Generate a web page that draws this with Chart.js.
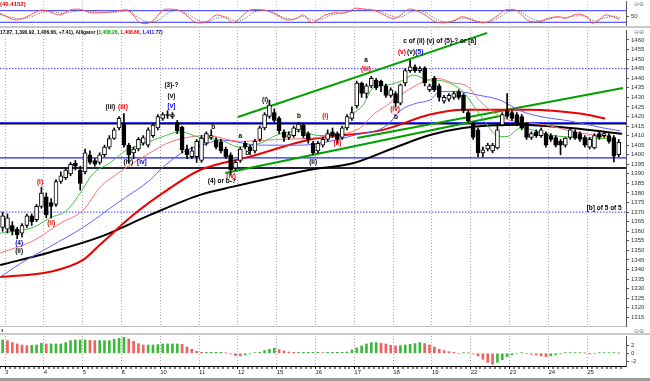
<!DOCTYPE html>
<html>
<head>
<meta charset="utf-8">
<script src="https://cdn.jsdelivr.net/npm/chart.js@4.4.1/dist/chart.umd.min.js"></script>
<style>
html,body{margin:0;padding:0;background:#fff;}
body{width:650px;height:381px;position:relative;overflow:hidden;font-family:"Liberation Sans",Arial,sans-serif;}
canvas{position:absolute;left:0;}
.band{position:absolute;left:0;width:650px;}
.txt{position:absolute;white-space:nowrap;font-weight:bold;line-height:1;}
</style>
</head>
<body>
<canvas id="osc" width="650" height="26" style="top:0px"></canvas>
<canvas id="main" width="650" height="300" style="top:28px"></canvas>
<canvas id="hist" width="650" height="46" style="top:335px"></canvas>
<div class="band" style="top:26px;height:2px;background:#c8c8c8"></div>
<div class="band" style="top:333px;height:2px;background:#c8c8c8"></div>
<div class="band" style="top:378px;height:3px;background:#9a9a9a"></div>
<div class="txt" style="left:0;top:1px;font-size:6px;color:#e00000">(40.4152)</div>
<div class="txt" style="left:0;top:29px;font-size:6px;color:#000;transform:scaleX(0.82);transform-origin:0 0">17.87, 1,390.92, 1,406.66, +7.41), Alligator (<span style="color:#00a000">1,408.26</span>, <span style="color:#e00000">1,408.66</span>, <span style="color:#0000e0">1,411.77</span>)</div>
<div class="txt" style="left:1px;top:327px;font-size:7px;color:#000">›</div>
<div class="txt" style="left:634px;top:1px;font-size:6px;color:#888;font-weight:normal">⊖⊕</div>
<div class="txt" style="left:634px;top:29px;font-size:6px;color:#888;font-weight:normal">⊖⊕</div>
<div class="txt" style="left:634px;top:328px;font-size:6px;color:#888;font-weight:normal">⊖⊕</div>
<script>
// ---------------- DATA ----------------
const dayLabels = ['3','4','5','8','10','11','12','15','16','17','18','19','22','23','24','25'];
const barsPerDay = 8;

const opens = [1362,1361,1363,1361,1359,1363,1368,1366,1373,1378,1375,1374,1386,1388,1390,1395.5,1392,1391,1400,1397,1396,1400,1404,1408.5,1414,1416.5,1405,1401,1403,1406,1405,1410,1414,1419,1421,1420,1417,1414.5,1403,1399,1399,1397,1406,1409,1407.7,1406.7,1403,1400,1393,1397,1406,1404,1402,1408,1414,1420,1422,1419,1412,1409,1410,1413,1415.5,1411,1406,1402,1405,1408,1412,1411,1409,1414,1419,1425.5,1437.5,1432,1436,1439,1438.5,1436,1431,1432,1427,1437.5,1444,1446,1444,1445.4,1434,1440,1436,1428,1429,1430,1433,1431,1422,1416,1413,1401,1403,1402,1403.5,1415.6,1423,1422,1421,1420,1416.6,1409,1412,1410,1411,1410,1409,1407,1405,1409,1412,1411,1409,1404,1403.5,1411,1410,1410,1409,1400];
const highs = [1370,1369,1365,1362,1364,1369,1369,1374,1383,1380,1377,1387,1391,1393,1396,1397,1394,1403,1402,1398,1401,1405,1410,1414,1420,1421.5,1406,1404,1409,1410,1414,1416,1421,1422,1423,1422,1418,1415,1405,1404,1408,1410,1412,1413,1409,1408,1404,1401,1397,1404,1407,1405,1408,1415,1422,1428.6,1424,1420,1413,1412,1415,1417,1416,1412,1407,1407,1409,1413,1414,1412,1415,1421,1425,1438.5,1438,1437,1441,1440,1439,1437,1435,1433,1437,1445,1449.5,1447,1446,1446,1437,1441,1437,1431,1432,1433,1434,1432,1423.5,1417,1414,1404,1406,1406,1416.6,1422,1432,1423,1422,1421,1417,1412,1413,1414,1412,1411,1410,1408,1409,1414,1413,1412,1410,1409,1411,1412,1412,1411,1410,1408];
const lows = [1360,1359,1358,1356,1357,1362,1363,1365,1372,1367,1367,1373,1385,1387,1389,1392,1381.5,1390,1395,1394,1395,1399,1403,1408,1413,1404,1396,1398,1402,1405,1404,1409,1413,1418,1419,1419,1411,1401,1398,1398,1396,1396,1405,1408,1403,1401,1398,1389.4,1392,1396,1403,1400,1401,1407,1413,1419,1417,1411,1407,1408,1409,1412,1409,1406,1400,1401,1404,1407,1409,1406,1408,1413,1418,1424.4,1430,1429.7,1435,1434,1433,1430,1430,1425,1426,1436,1443,1443,1443,1436,1433,1433,1428,1427,1428,1429,1429,1422,1417,1408,1399,1399,1402,1401,1403,1415,1419,1418,1415,1413,1408,1408,1409,1409,1404,1407,1404,1400,1404,1408,1408,1407,1404,1403,1403,1408,1409,1406,1396.2,1399];
const closes = [1368,1367,1360,1358,1363,1368,1365,1373,1380,1368.5,1373,1386,1389,1392,1395,1394,1385,1401,1396,1395,1400,1404,1408.5,1413,1419,1405,1400,1403,1408,1409,1413,1415.5,1420,1421,1420.5,1421,1412.5,1402.5,1400,1402,1407,1408.7,1411,1410,1404,1402,1399,1392,1396,1403,1404,1402,1407,1414,1421,1426,1418,1412.5,1409,1410.5,1414,1416,1410,1408,1401,1406,1408,1411,1410,1408,1414,1420,1422,1437.5,1432,1436,1440,1435,1436,1431,1434,1427,1436.5,1444,1446,1444,1445,1437.5,1436,1434,1430,1430,1431,1432,1430,1423,1417.6,1409,1401,1402.5,1405,1405,1413,1421,1420,1419,1416,1414,1409,1411,1410,1413,1405,1408,1405,1405,1408.7,1413,1408.7,1408,1405,1408,1410,1409,1411,1407,1399.25,1406.66];

// moving averages: [bar, price]
const lipsGreen = [[-0.5,1359],[6.3,1362],[9.8,1367],[13.3,1371],[16,1380],[18.6,1390],[22.1,1395.7],[25.6,1402.5],[28.3,1405],[32.5,1409],[36.6,1412],[40.7,1409],[44.8,1407.7],[48.9,1404],[53.1,1406],[57.2,1411],[61.3,1412],[65.4,1410],[69.6,1411],[71.6,1419.6],[74.3,1426],[76.4,1435],[79.3,1436.5],[82.6,1439],[84.6,1441.7],[88.1,1439],[89.6,1439],[92.9,1436.5],[94.9,1433],[97,1426],[99.9,1415.5],[101.9,1410],[104,1409.5],[106.7,1414],[113.5,1410],[119.1,1409],[125.3,1408.3]];
const teethRed = [[-0.5,1348.6],[6.3,1355],[11.8,1364],[16.6,1371],[20.1,1383],[23.6,1390],[26.9,1395.7],[30.4,1401],[33.9,1406],[38,1409],[42.1,1410],[48.9,1407],[57.2,1408],[65.4,1409],[68.1,1410],[73.7,1414],[76.4,1421],[79.3,1426],[81.9,1431],[85.4,1436.5],[89.6,1440],[92.9,1437.5],[95.7,1436],[98.4,1428],[101.9,1421],[104.6,1418],[112.2,1415.5],[117,1412.4],[125.3,1409]];
const jawBlue = [[-0.5,1336],[3.6,1343],[9.8,1352],[16.6,1362],[23.6,1374.7],[30.4,1386.8],[33.1,1393.6],[38,1402.5],[41.3,1405],[44.8,1407.7],[53.1,1405],[61.3,1405],[67.5,1407],[72.2,1410],[79.3,1415.5],[81.9,1423],[85.4,1427],[88.1,1428.6],[90.2,1433],[93.7,1433],[98.4,1431],[102.5,1428.6],[106.7,1423],[110.8,1420],[117,1417.6],[123.8,1414],[127.3,1412.5]];
const maRedThick = [[-0.5,1336],[9.8,1338.8],[16.6,1345],[20.1,1353],[26.9,1368.5],[33.9,1381.5],[40.7,1392],[51,1399],[63.4,1408],[78.4,1413],[88.1,1421],[94.9,1423.5],[108.7,1423.5],[119,1421.5],[124.2,1419]];
const maBlackThick = [[-0.5,1342.3],[9.8,1349],[20.1,1357],[30.4,1368.5],[40.7,1379],[47.5,1383.3],[56.6,1388.5],[64,1392.4],[72.2,1395.5],[80.5,1403.4],[88.1,1410.3],[94.9,1414],[106.7,1415.7],[117,1414],[127.7,1411]];

// trend lines [bar, price] endpoints
const trendUpper = [[48.5,1419.7],[99.9,1463.7]];
const trendLowerA = [[45.9,1390.4],[102.5,1420.3]];
const trendLowerB = [[73.1,1408.7],[127.9,1434.9]];
// horizontal levels
const levelBlack = 1416.2, levelBlueTop = 1416.8, levelBlue = 1398.3, levelDouble = 1393.0;
const dottedLevels = [1445, 1370];

const yTicks = [1315,1320,1325,1330,1335,1340,1345,1350,1355,1360,1365,1370,1375,1380,1385,1390,1395,1400,1405,1410,1415,1420,1425,1430,1435,1440,1445,1450,1455,1460];

// wave labels: text, bar, price, colour
const noteText  = ['(4)','(ii)','(i)','(ii)','(iii)','(iii)','(3)-?','(v)','[v]','(iv)','[iv]','b','(4) or b-?','(iv)','a','b','(i)','b','(i)','(ii)','(ii)','a','(iii)','c of (ii)','(v)','(v)','(5)','(v) of (5)-? or [a]','(iv)','b','[b] of 5 of 5'];
const noteBar   = [3.4,3.4,7.7,10,22.2,24.8,34.8,34.8,34.8,25.9,28.7,43.4,45.2,47.1,49,50.4,54.1,61.1,66.5,64,69,74.9,74.9,84.8,82.3,84.2,85.9,92.5,80.9,81.1,124];
const notePrice = [1353.8,1349.6,1385.7,1364.3,1425,1425,1436.5,1430.7,1425.5,1396.2,1396.2,1414.5,1386.3,1388.9,1409.8,1400.9,1428.6,1420.3,1420.3,1396.2,1406.1,1449.5,1444.8,1459.5,1453.7,1453.7,1453.7,1459.5,1423.9,1419.7,1372.1];
const noteColor = ['#0000e0','#000','#e00000','#e00000','#000','#e00000','#000','#000','#0000e0','#000','#0000e0','#000','#000','#e00000','#000','#000','#000','#000','#e00000','#000','#e00000','#000','#e00000','#000','#e00000','#000','#0000e0','#000','#e00000','#000','#000'];

// oscillator (top panel): [bar, value]
const oscMain = [[-0.5,66.5],[1.5,40.7],[2.9,31.9],[5,49],[7,74.8],[8.4,83.6],[10.5,66.5],[11.8,57.8],[13.9,83.6],[16,87.2],[18,69.7],[20,69.7],[22.8,74.8],[25.6,83.6],[26.9,57.8],[28.3,17.9],[30.4,17.9],[31.8,49],[33.1,83.6],[35.2,87.2],[36.9,74.8],[38.6,40.7],[40,17.9],[42.1,23.1],[44.1,57.8],[46.2,40.7],[47.6,17.9],[49.6,57.8],[51,83.6],[53.8,83.6],[55.1,74.8],[56.5,57.8],[58.6,31.9],[60.6,40.7],[62,57.8],[63.7,17.9],[65.4,40.7],[66.5,57.8],[68.5,69.7],[69.9,66.5],[71.3,74.8],[72.7,92.4],[74.7,87.2],[76.8,80],[80.2,40.7],[81.6,49],[83.6,87.2],[85,83.6],[87.1,57.8],[89.2,23.1],[91.2,17.9],[93.3,31.9],[94.7,49],[96.7,31.9],[98.8,17.9],[100.1,23.1],[102.2,57.8],[103.6,83.6],[105.7,83.6],[107,57.8],[108.4,28.3],[110.5,23.1],[112.5,40.7],[114.6,49],[116,40.7],[118.7,62.9],[120.8,40.7],[121.5,14.8],[122.9,31.9],[124.3,57.8],[125.7,49],[127.1,35.5]];
const oscSignal = [[-0.5,60],[2,45],[4,38],[6,50],[8,70],[10,78],[12,66],[14,72],[16,82],[18,78],[20,72],[23,72],[26,78],[28,45],[30,22],[32,30],[34,65],[36,84],[38,65],[40,35],[42,22],[44,40],[46,48],[48,28],[50,40],[52,75],[54,82],[56,70],[58,45],[60,36],[62,50],[64,32],[66,38],[68,60],[70,68],[72,78],[74,88],[77,82],[80,55],[82,46],[84,72],[86,82],[88,58],[90,30],[92,20],[94,35],[96,42],[98,25],[100,20],[102,40],[104,72],[106,82],[108,55],[110,30],[112,32],[114,45],[116,45],[118,52],[120,52],[122,28],[124,42],[126,52],[127.5,42]];
const oscLevels = [80, 20];

// histogram (bottom panel), one value per bar
const histVals = [3.2,3.05,2.57,2.25,2.0,1.85,1.93,2.0,2.4,2.25,2.25,2.25,2.25,2.57,3.05,3.2,3.2,3.2,3.1,3.05,3.05,3.05,3.05,3.37,3.6,3.85,3.45,2.9,2.33,2.0,2.0,2.0,2.1,2.25,2.25,2.25,2.25,2.17,1.53,0.96,0.48,0.24,0.24,0.24,0.24,0.24,0.08,-0.16,-0.56,-0.64,-0.4,-0.08,0.16,0.24,0.64,0.96,1.2,0.88,0.56,0.32,0.24,0.24,0.24,0.24,0.24,0.24,0.16,0.24,0.24,0.24,0.24,0.32,0.8,1.29,1.77,2.25,2.57,2.57,2.4,2.25,1.93,1.77,1.85,2.0,2.17,2.33,2.57,2.33,2.0,1.53,0.96,0.64,0.4,0.24,0,0.16,0.08,-0.16,-0.64,-1.45,-2.17,-2.65,-2.17,-1.53,-0.8,-0.4,0,0.16,0,-0.24,-0.4,-0.64,-0.8,-0.64,-0.32,-0.08,0.16,0.16,0.16,0.16,0.08,-0.03,0,0.16,0.16,0.16,0.16,0.05];
const histTicks = [2, 0, -2];

// ---------------- CHARTS ----------------
Chart.defaults.font.family = '"Liberation Sans", Arial, sans-serif';
Chart.defaults.animation = false;
const X_MIN = -0.54, X_MAX = 128.5;
const dayStarts = dayLabels.map((_, k) => k * barsPerDay + 0.5);
const isDay = v => dayStarts.some(d => Math.abs(d - v) < 1e-6);
const pts = arr => arr.map(([x, y]) => ({x, y}));
const span = v => [{x: X_MIN, y: v}, {x: X_MAX, y: v}];
const noFitPad = s => { s.paddingTop = 0; s.paddingBottom = 0; s.paddingLeft = 0; s.paddingRight = 0; };

function rightAxis(min, max, ticks) {
  return {
    type: 'linear', position: 'right', min, max,
    afterBuildTicks: s => { s.ticks = ticks.map(v => ({value: v})); },
    afterFit: s => { s.width = 24; noFitPad(s); },
    ticks: {font: {size: 6}, color: '#333', padding: 2, autoSkip: false, callback: v => String(v)},
    grid: {drawOnChartArea: false, tickLength: 3, color: '#555'},
    border: {color: '#555'}
  };
}
function dayGridX(color) {
  return {
    type: 'linear', min: X_MIN, max: X_MAX, offset: false,
    afterBuildTicks: s => { s.ticks = dayStarts.map(v => ({value: v})); },
    afterFit: s => { s.height = 0; noFitPad(s); },
    ticks: {display: false},
    grid: {color, lineWidth: 1, drawTicks: false, offset: false},
    border: {display: false, dash: [1, 2]}
  };
}

// top oscillator
new Chart(document.getElementById('osc'), {
  type: 'line',
  data: {datasets: [
    {data: pts(oscMain), borderColor: '#ff5050', borderWidth: 1, pointRadius: 0, tension: 0.35, order: 1},
    {data: pts(oscSignal), borderColor: '#555', borderWidth: 1, borderDash: [1, 1.5], pointRadius: 0, tension: 0.35, order: 2},
    ...oscLevels.map(v => ({data: span(v), borderColor: '#3030ff', borderWidth: 1, pointRadius: 0, order: 3}))
  ]},
  options: {
    responsive: false, events: [],
    layout: {padding: {top: 1, bottom: 1, left: 0, right: 0}},
    plugins: {legend: {display: false}, tooltip: {enabled: false}},
    scales: {x: dayGridX('#d0d0d0'), y: rightAxis(6, 130.2, [50])}
  }
});

// main price chart
const candleIdx = opens.map((_, i) => i);
const notesPlugin = {
  id: 'notes',
  afterDatasetsDraw(chart) {
    const {ctx, scales: {x, y}} = chart;
    ctx.save();
    ctx.font = 'bold 6.5px "Liberation Sans", Arial, sans-serif';
    ctx.textAlign = 'center'; ctx.textBaseline = 'middle';
    noteText.forEach((t, i) => {
      ctx.fillStyle = noteColor[i];
      ctx.fillText(t, x.getPixelForValue(noteBar[i]), y.getPixelForValue(notePrice[i]));
    });
    ctx.restore();
  }
};
const lineDs = (data, color, width, order, extra) => Object.assign({type: 'line', data, borderColor: color, borderWidth: width, pointRadius: 0, cubicInterpolationMode: 'monotone', order}, extra || {});

new Chart(document.getElementById('main'), {
  type: 'bar',
  data: {datasets: [
    {data: candleIdx.map(i => ({x: i, y: [opens[i], closes[i]]})), grouped: false, barThickness: 4, maxBarThickness: 4,
     backgroundColor: candleIdx.map(i => closes[i] >= opens[i] ? '#ffffff' : '#000000'), borderColor: '#000', borderWidth: 1, borderSkipped: false, order: 0},
    {data: candleIdx.map(i => ({x: i, y: [lows[i], highs[i]]})), grouped: false, barThickness: 1, maxBarThickness: 1,
     backgroundColor: '#000', borderWidth: 0, order: 1},
    lineDs(pts(lipsGreen), '#40c040', 1, 2),
    lineDs(pts(teethRed), '#ff7070', 1, 2),
    lineDs(pts(jawBlue), '#6060ff', 1, 2),
    lineDs(pts(maRedThick), '#ee0000', 2, 3),
    lineDs(pts(maBlackThick), '#000000', 2, 3),
    lineDs(pts(trendUpper), '#00a000', 2, 4, {cubicInterpolationMode: 'default'}),
    lineDs(pts(trendLowerA), '#00a000', 2, 4, {cubicInterpolationMode: 'default'}),
    lineDs(pts(trendLowerB), '#00a000', 2, 4, {cubicInterpolationMode: 'default'}),
    lineDs(span(levelBlueTop), '#2020ff', 1, 5),
    lineDs(span(levelBlack), '#000000', 1.5, 5),
    lineDs(span(levelBlue), '#2020ff', 1.2, 5),
    lineDs(span(levelDouble), '#222244', 2, 5),
    ...dottedLevels.map(v => lineDs(span(v), '#4040ff', 1, 5, {borderDash: [1.5, 1.5]}))
  ]},
  options: {
    responsive: false, events: [],
    layout: {padding: {top: 2, bottom: 2, left: 0, right: 0}},
    plugins: {legend: {display: false}, tooltip: {enabled: false}},
    scales: {
      x: Object.assign(dayGridX('#a8a8a8'), {border: {display: true, color: '#c0c0c0', dash: [1, 2]}}),
      y: rightAxis(1310.42, 1465.23, yTicks)
    }
  },
  plugins: [notesPlugin]
});

// bottom histogram
const barBounds = [];
for (let i = -1; i < opens.length; i++) barBounds.push(i + 0.5);
new Chart(document.getElementById('hist'), {
  type: 'bar',
  data: {datasets: [{
    data: histVals.map((v, i) => ({x: i, y: v})),
    barThickness: 2, borderWidth: 0,
    backgroundColor: histVals.map((v, i) => (i === 0 || v >= histVals[i - 1]) ? '#3cb83c' : '#f06060')
  }]},
  options: {
    responsive: false, events: [],
    layout: {padding: {top: 1, bottom: 3, left: 0, right: 0}},
    plugins: {legend: {display: false}, tooltip: {enabled: false}},
    scales: {
      x: {
        type: 'linear', min: X_MIN, max: X_MAX, offset: false,
        afterBuildTicks: s => { s.ticks = barBounds.map(v => ({value: v})); },
        afterFit: s => { s.height = 12; noFitPad(s); },
        ticks: {autoSkip: false, maxRotation: 0, minRotation: 0, align: 'start', padding: 0, font: {size: 6}, color: '#222',
                callback: v => { const k = dayStarts.findIndex(d => Math.abs(d - v) < 1e-6); return k >= 0 ? dayLabels[k] : ''; }},
        grid: {offset: false, drawTicks: true, tickLength: 3, tickWidth: 1, tickColor: '#000', color: '#a8a8a8',
               lineWidth: c => (c.tick && isDay(c.tick.value)) ? 1 : 0},
        border: {display: true, color: '#000', dash: [1, 2]}
      },
      y: rightAxis(-3.06, 4.17, histTicks)
    }
  }
});
</script>
</body>
</html>
